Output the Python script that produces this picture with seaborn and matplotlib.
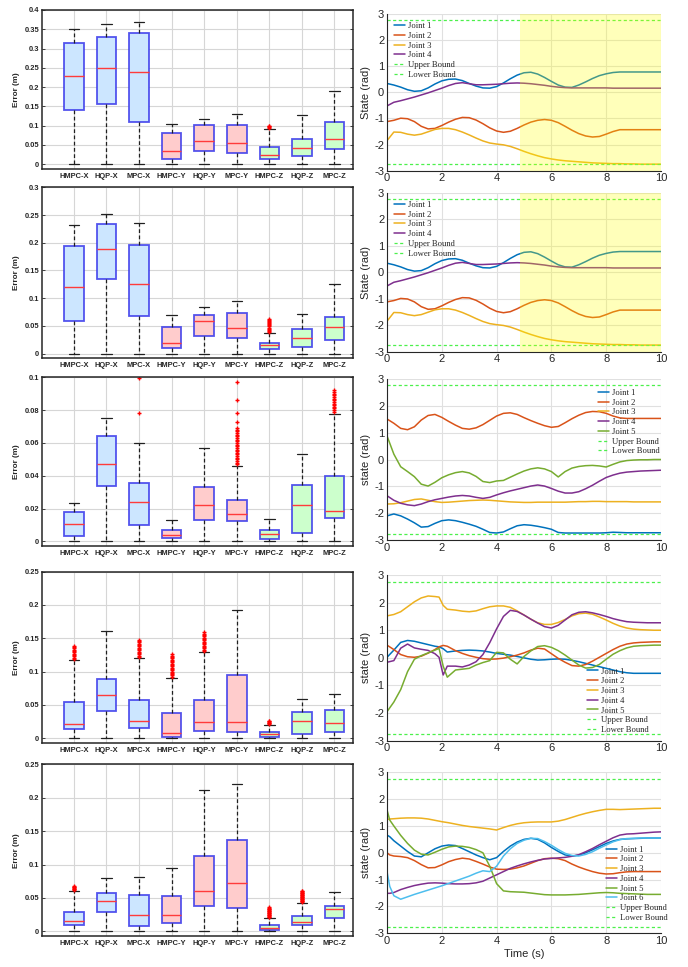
import numpy as np
import matplotlib
matplotlib.use("Agg")
import matplotlib.pyplot as plt
import seaborn as sns

# ---------------- box-plot data (Error in m) ----------------
CATS = ["HMPC-X", "HQP-X", "MPC-X", "HMPC-Y", "HQP-Y", "MPC-Y", "HMPC-Z", "HQP-Z", "MPC-Z"]

R1_LO = [0, 0, 0, 0, 0, 0, 0, 0, 0]
R1_Q1 = [0.141, 0.155, 0.11, 0.014, 0.0336, 0.029, 0.014, 0.022, 0.04]
R1_MED = [0.23, 0.25, 0.24, 0.0345, 0.061, 0.056, 0.023, 0.043, 0.066]
R1_Q3 = [0.315, 0.331, 0.34, 0.08, 0.1026, 0.1026, 0.0457, 0.066, 0.11]
R1_HI = [0.35, 0.364, 0.369, 0.105, 0.118, 0.13, 0.092, 0.128, 0.191]
R1_OUT = {6: [0.094, 0.096, 0.098, 0.1]}

R2_LO = [0, 0, 0, 0, 0, 0, 0, 0, 0]
R2_Q1 = [0.0584, 0.1355, 0.0675, 0.0108, 0.032, 0.029, 0.009, 0.0127, 0.0247]
R2_MED = [0.121, 0.188, 0.125, 0.0199, 0.059, 0.047, 0.0157, 0.029, 0.0488]
R2_Q3 = [0.195, 0.233, 0.196, 0.0488, 0.0705, 0.074, 0.0199, 0.044, 0.0657]
R2_HI = [0.2325, 0.2524, 0.236, 0.0705, 0.0843, 0.095, 0.0367, 0.071, 0.1265]
R2_OUT = {6: [0.039, 0.041, 0.043, 0.045, 0.047, 0.049, 0.051, 0.053, 0.055, 0.057,
              0.059, 0.061, 0.062]}

R3_LO = [0, 0, 0, 0, 0, 0, 0, 0, 0]
R3_Q1 = [0.0033, 0.0337, 0.01, 0.002, 0.0133, 0.0122, 0.0015, 0.0054, 0.0143]
R3_MED = [0.0104, 0.047, 0.0241, 0.0041, 0.0224, 0.0165, 0.0048, 0.0224, 0.0185]
R3_Q3 = [0.018, 0.064, 0.0357, 0.0067, 0.0333, 0.0254, 0.007, 0.0341, 0.04]
R3_HI = [0.0237, 0.0754, 0.0598, 0.0128, 0.0567, 0.046, 0.0135, 0.0533, 0.0776]
R3_OUT = {2: [0.0785, 0.0995],
          5: [0.047, 0.048, 0.049, 0.05, 0.051, 0.052, 0.053, 0.054, 0.055, 0.056,
              0.057, 0.058, 0.059, 0.06, 0.061, 0.062, 0.063, 0.064, 0.065, 0.066,
              0.067, 0.068, 0.069, 0.073, 0.078, 0.086, 0.097],
          8: [0.079, 0.08, 0.081, 0.082, 0.083, 0.084, 0.085, 0.086, 0.087, 0.088,
              0.089, 0.09, 0.091, 0.092]}

R4_LO = [0, 0, 0, 0, 0, 0, 0, 0, 0]
R4_Q1 = [0.0136, 0.04, 0.015, 0.002, 0.0106, 0.0096, 0.002, 0.0066, 0.0096]
R4_MED = [0.0217, 0.064, 0.0263, 0.007, 0.0247, 0.0242, 0.006, 0.0263, 0.0232]
R4_Q3 = [0.0545, 0.0889, 0.057, 0.0374, 0.0576, 0.095, 0.0091, 0.0394, 0.0414]
R4_HI = [0.117, 0.161, 0.12, 0.09, 0.129, 0.192, 0.0197, 0.059, 0.0667]
R4_OUT = {0: [0.119, 0.121, 0.123, 0.125, 0.127, 0.129, 0.131, 0.133, 0.135, 0.137, 0.139],
          2: [0.122, 0.124, 0.126, 0.128, 0.13, 0.132, 0.134, 0.136, 0.138, 0.14, 0.142,
              0.144, 0.146, 0.148],
          3: [0.092, 0.094, 0.096, 0.098, 0.1, 0.102, 0.104, 0.106, 0.108, 0.11, 0.112,
              0.114, 0.116, 0.118, 0.12, 0.122, 0.124, 0.126],
          4: [0.131, 0.133, 0.135, 0.137, 0.139, 0.141, 0.143, 0.145, 0.147, 0.149,
              0.151, 0.153, 0.155, 0.157, 0.16],
          6: [0.021, 0.022, 0.023, 0.024, 0.025, 0.026]}

R5_LO = [0, 0, 0, 0, 0, 0, 0, 0, 0]
R5_Q1 = [0.0091, 0.0283, 0.0081, 0.0126, 0.0374, 0.0348, 0.0025, 0.0096, 0.0197]
R5_MED = [0.0152, 0.046, 0.0242, 0.0242, 0.0606, 0.0727, 0.0045, 0.0136, 0.0328]
R5_Q3 = [0.0293, 0.057, 0.054, 0.0525, 0.112, 0.1374, 0.0091, 0.0227, 0.0374]
R5_HI = [0.0606, 0.0803, 0.081, 0.0944, 0.211, 0.2207, 0.0192, 0.0424, 0.0586]
R5_OUT = {0: [0.062, 0.063, 0.064, 0.065, 0.066, 0.067, 0.068],
          6: [0.021, 0.022, 0.023, 0.024, 0.025, 0.026, 0.027, 0.028, 0.029, 0.03,
              0.031, 0.032, 0.033, 0.034, 0.035, 0.036],
          7: [0.044, 0.045, 0.046, 0.047, 0.048, 0.049, 0.05, 0.051, 0.052, 0.053,
              0.054, 0.055, 0.056, 0.057, 0.058, 0.059, 0.06, 0.061]}

# ---------------- joint state data (rad) ----------------
TA = [0, 0.25, 0.5, 0.75, 1, 1.25, 1.5, 1.75, 2, 2.25, 2.5, 2.75, 3, 3.25, 3.5, 3.75, 4,
      4.25, 4.5, 4.75, 5, 5.25, 5.5, 5.75, 6, 6.25, 6.5, 6.75, 7, 7.25, 7.5, 7.75, 8,
      8.25, 8.5, 8.75, 9, 9.25, 9.5, 9.75, 10]
A_J1 = [0.34, 0.28, 0.2, 0.1, 0.04, 0.06, 0.17, 0.32, 0.44, 0.5, 0.51, 0.45, 0.34, 0.24,
        0.17, 0.16, 0.22, 0.36, 0.52, 0.66, 0.75, 0.77, 0.7, 0.57, 0.42, 0.28, 0.2, 0.19,
        0.28, 0.4, 0.53, 0.64, 0.71, 0.76, 0.78, 0.78, 0.78, 0.78, 0.78, 0.78, 0.78]
A_J2 = [-1.12, -1.07, -0.99, -1.01, -1.12, -1.3, -1.4, -1.38, -1.27, -1.14, -1.03, -0.96,
        -0.97, -1.06, -1.2, -1.36, -1.48, -1.53, -1.49, -1.38, -1.25, -1.14, -1.07, -1.04,
        -1.07, -1.16, -1.3, -1.45, -1.58, -1.67, -1.71, -1.69, -1.6, -1.5, -1.43, -1.43,
        -1.43, -1.43, -1.43, -1.43, -1.43]
A_J3 = [-1.85, -1.52, -1.53, -1.6, -1.64, -1.6, -1.51, -1.42, -1.38, -1.38, -1.43, -1.52,
        -1.63, -1.75, -1.86, -1.94, -1.98, -2.01, -2.07, -2.16, -2.26, -2.35, -2.43, -2.5,
        -2.55, -2.59, -2.62, -2.64, -2.66, -2.68, -2.7, -2.71, -2.72, -2.73, -2.73, -2.74,
        -2.74, -2.75, -2.75, -2.75, -2.75]
A_J4 = [-0.52, -0.38, -0.32, -0.25, -0.18, -0.1, -0.02, 0.07, 0.16, 0.26, 0.34, 0.37, 0.33,
        0.29, 0.29, 0.3, 0.31, 0.33, 0.35, 0.36, 0.35, 0.33, 0.3, 0.27, 0.23, 0.2, 0.18,
        0.17, 0.17, 0.17, 0.17, 0.17, 0.17, 0.16, 0.16, 0.16, 0.16, 0.16, 0.16, 0.16, 0.16]

TB = TA
B_J1 = [-2.1, -2.03, -2.1, -2.22, -2.36, -2.52, -2.5, -2.38, -2.28, -2.25, -2.28, -2.34,
        -2.41, -2.49, -2.6, -2.72, -2.74, -2.7, -2.58, -2.47, -2.43, -2.45, -2.49, -2.54,
        -2.6, -2.72, -2.74, -2.74, -2.74, -2.74, -2.74, -2.74, -2.73, -2.71, -2.72, -2.73,
        -2.73, -2.73, -2.73, -2.73, -2.73]
B_J2 = [1.51, 1.35, 1.16, 1.11, 1.22, 1.47, 1.64, 1.68, 1.57, 1.42, 1.28, 1.16, 1.13, 1.18,
        1.3, 1.46, 1.62, 1.72, 1.74, 1.68, 1.56, 1.45, 1.35, 1.26, 1.2, 1.23, 1.37, 1.52,
        1.65, 1.75, 1.79, 1.78, 1.72, 1.62, 1.55, 1.53, 1.53, 1.53, 1.53, 1.53, 1.53]
B_J3 = [-1.66, -1.65, -1.61, -1.55, -1.49, -1.47, -1.52, -1.57, -1.6, -1.59, -1.57, -1.55,
        -1.53, -1.52, -1.51, -1.52, -1.54, -1.56, -1.58, -1.59, -1.6, -1.6, -1.59, -1.59,
        -1.59, -1.59, -1.59, -1.58, -1.57, -1.57, -1.56, -1.56, -1.57, -1.57, -1.57, -1.57,
        -1.58, -1.58, -1.58, -1.58, -1.58]
B_J4 = [-1.35, -1.52, -1.63, -1.69, -1.72, -1.66, -1.57, -1.5, -1.45, -1.4, -1.36, -1.34,
        -1.36, -1.41, -1.45, -1.41, -1.32, -1.24, -1.17, -1.11, -1.05, -0.99, -0.95, -0.99,
        -1.08, -1.18, -1.25, -1.25, -1.2, -1.09, -0.96, -0.81, -0.67, -0.58, -0.51, -0.47,
        -0.45, -0.43, -0.42, -0.41, -0.4]
B_J5 = [0.88, 0.2, -0.27, -0.45, -0.64, -0.92, -0.99, -0.85, -0.68, -0.57, -0.49, -0.45,
        -0.5, -0.63, -0.82, -0.86, -0.8, -0.78, -0.66, -0.54, -0.43, -0.35, -0.31, -0.35,
        -0.45, -0.65, -0.45, -0.32, -0.26, -0.23, -0.22, -0.24, -0.28, -0.18, -0.09, -0.04,
        -0.02, -0.01, -0.01, 0.0, 0.0]

TC = [0, 0.25, 0.5, 0.75, 1, 1.25, 1.5, 1.75, 1.9, 2.05, 2.2, 2.5, 2.75, 3, 3.25, 3.5,
      3.75, 4, 4.25, 4.5, 4.75, 5, 5.25, 5.5, 5.75, 6, 6.25, 6.5, 6.75, 7, 7.25, 7.5, 7.75,
      8, 8.25, 8.5, 8.75, 9, 9.25, 9.5, 9.75, 10]
C_J1 = [0.02, 0.28, 0.56, 0.63, 0.6, 0.54, 0.48, 0.42, 0.4, 0.33, 0.21, 0.25, 0.27, 0.28,
        0.27, 0.25, 0.21, 0.16, 0.13, 0.1, 0.05, 0.0, -0.05, -0.08, -0.07, -0.05, -0.04,
        -0.05, -0.09, -0.14, -0.2, -0.26, -0.32, -0.38, -0.44, -0.5, -0.54, -0.56, -0.56,
        -0.56, -0.56, -0.56]
C_J2 = [0.46, 0.3, 0.12, 0.04, 0.02, 0.06, 0.17, 0.3, 0.4, 0.45, 0.42, 0.26, 0.16, 0.08,
        0.02, -0.03, -0.05, -0.04, -0.01, 0.04, 0.1, 0.18, 0.28, 0.35, 0.32, 0.15, -0.02,
        -0.16, -0.28, -0.3, -0.24, -0.12, 0.02, 0.16, 0.3, 0.42, 0.5, 0.54, 0.56, 0.57,
        0.58, 0.58]
C_J3 = [1.52, 1.57, 1.67, 1.85, 2.03, 2.17, 2.24, 2.22, 2.2, 1.9, 1.76, 1.73, 1.69, 1.67,
        1.7, 1.78, 1.85, 1.88, 1.88, 1.83, 1.7, 1.55, 1.4, 1.27, 1.21, 1.21, 1.28, 1.39,
        1.52, 1.6, 1.62, 1.58, 1.48, 1.37, 1.25, 1.15, 1.08, 1.04, 1.02, 1.01, 1.0, 1.0]
C_J4 = [-0.16, -0.1, 0.35, 0.5, 0.36, 0.31, 0.27, 0.15, 0.02, -0.62, -0.3, -0.3, -0.33,
        -0.26, -0.14, 0.12, 0.55, 1.05, 1.5, 1.72, 1.68, 1.55, 1.4, 1.26, 1.13, 1.08, 1.18,
        1.37, 1.56, 1.65, 1.67, 1.63, 1.57, 1.5, 1.42, 1.36, 1.31, 1.29, 1.28, 1.27, 1.27,
        1.27]
C_J5 = [-1.95, -1.6, -1.15, -0.5, -0.05, 0.08, 0.18, 0.28, 0.34, -0.3, -0.7, -0.44, -0.41,
        -0.38, -0.26, -0.17, -0.1, 0.2, 0.18, -0.05, -0.22, 0.05, 0.25, 0.41, 0.44, 0.38,
        0.26, 0.1, -0.08, -0.26, -0.37, -0.35, -0.24, -0.05, 0.13, 0.26, 0.36, 0.42, 0.44,
        0.45, 0.46, 0.46]

TD = [0, 0.1, 0.25, 0.5, 0.75, 1, 1.25, 1.5, 1.75, 2, 2.25, 2.5, 2.75, 3, 3.25, 3.5, 3.75,
      4, 4.25, 4.5, 4.75, 5, 5.25, 5.5, 5.75, 6, 6.25, 6.5, 6.75, 7, 7.25, 7.5, 7.75, 8,
      8.25, 8.5, 8.75, 9, 9.25, 9.5, 9.75, 10]
D_J1 = [0.66, 0.6, 0.45, 0.25, 0.05, -0.12, -0.15, 0.0, 0.15, 0.25, 0.29, 0.27, 0.16, 0.04,
        -0.08, -0.18, -0.26, -0.18, 0.05, 0.25, 0.4, 0.5, 0.54, 0.5, 0.37, 0.2, 0.05, -0.08,
        -0.12, -0.09, 0.0, 0.11, 0.23, 0.35, 0.44, 0.5, 0.52, 0.53, 0.54, 0.55, 0.55, 0.55]
D_J2 = [0.0, -0.08, -0.12, -0.14, -0.18, -0.29, -0.44, -0.56, -0.55, -0.45, -0.33, -0.25,
        -0.2, -0.23, -0.32, -0.42, -0.53, -0.61, -0.62, -0.61, -0.56, -0.49, -0.39, -0.29,
        -0.22, -0.2, -0.22, -0.29, -0.42, -0.53, -0.62, -0.7, -0.76, -0.79, -0.78, -0.74,
        -0.71, -0.7, -0.7, -0.7, -0.7, -0.7]
D_J3 = [1.24, 1.26, 1.27, 1.29, 1.3, 1.3, 1.29, 1.26, 1.21, 1.16, 1.12, 1.07, 1.02, 0.98,
        0.95, 0.92, 0.89, 0.85, 0.94, 1.02, 1.08, 1.12, 1.14, 1.15, 1.15, 1.15, 1.18, 1.24,
        1.32, 1.4, 1.47, 1.53, 1.58, 1.62, 1.62, 1.61, 1.62, 1.63, 1.64, 1.65, 1.66, 1.66]
D_J4 = [-1.51, -1.51, -1.48, -1.37, -1.29, -1.22, -1.17, -1.13, -1.12, -1.13, -1.15, -1.16,
        -1.16, -1.15, -1.12, -1.06, -0.94, -0.82, -0.7, -0.58, -0.49, -0.41, -0.34, -0.28,
        -0.23, -0.21, -0.19, -0.17, -0.13, -0.07, 0.04, 0.16, 0.3, 0.43, 0.56, 0.66, 0.7,
        0.71, 0.73, 0.75, 0.77, 0.78]
D_J5 = [1.6, 1.22, 1.0, 0.65, 0.35, 0.1, -0.05, -0.08, 0.02, 0.13, 0.22, 0.25, 0.24, 0.2,
        0.12, 0.0, -0.5, -1.15, -1.42, -1.45, -1.46, -1.47, -1.5, -1.53, -1.56, -1.57, -1.57,
        -1.57, -1.56, -1.55, -1.53, -1.51, -1.49, -1.48, -1.49, -1.51, -1.52, -1.53, -1.54,
        -1.55, -1.55, -1.55]
D_J6 = [-0.7, -1.25, -1.6, -1.73, -1.64, -1.55, -1.47, -1.39, -1.31, -1.23, -1.14, -1.05,
        -0.96, -0.87, -0.76, -0.67, -0.7, -0.5, -0.12, 0.15, 0.35, 0.47, 0.54, 0.53, 0.42,
        0.28, 0.12, -0.02, -0.1, -0.12, -0.06, 0.04, 0.17, 0.29, 0.41, 0.49, 0.53, 0.54,
        0.55, 0.55, 0.55, 0.55]

UPPER = 2.76
LOWER = -2.76
SHADE = [4.84, 10]

# ---------------- styling ----------------
sns.set_theme(style="whitegrid")
plt.rcParams['font.family'] = ['Liberation Sans', 'DejaVu Sans']
plt.rcParams['axes.unicode_minus'] = False

JCOL = ['#0072BD', '#D95319', '#EDB120', '#7E2F8E', '#77AC30', '#4DBEEE']
BND = '#4cf04c'
FACE = [(0.80, 0.90, 1.0)] * 3 + [(1.0, 0.80, 0.80)] * 3 + [(0.80, 1.0, 0.80)] * 3
EDGE = (0.22, 0.22, 0.92, 0.85)
DARK = '#262626'

fig = plt.figure(figsize=(6.88, 9.67), dpi=100)
H = 967.0
W = 688.0


def pos_px(x0, x1, ytop, ybot):
    return [x0 / W, 1 - ybot / H, (x1 - x0) / W, (ybot - ytop) / H]


LEFT_ROWS = [(10, 168.5), (187.3, 358.3), (377.3, 546), (571.7, 742.7), (764.3, 936)]
RIGHT_ROWS = [(14, 170.7), (192.7, 351.7), (379, 540), (575, 740.7), (772.3, 933.3)]


def draw_box(ax, lo, q1, med, q3, hi, outs, ytop, ystep):
    stats = []
    for i in range(len(CATS)):
        stats.append(dict(med=med[i], q1=q1[i], q3=q3[i], whislo=lo[i], whishi=hi[i],
                          fliers=np.array(outs.get(i, []), dtype=float)))
    art = ax.bxp(stats, positions=np.arange(1, 10), widths=0.6, patch_artist=True,
                 showfliers=True, capwidths=0.32,
                 medianprops=dict(color='#ff3b3b', lw=1.0),
                 whiskerprops=dict(color='#202020', lw=0.9, ls=(0, (3, 2))),
                 capprops=dict(color='#202020', lw=0.9),
                 flierprops=dict(marker='+', markeredgecolor='red', markersize=3,
                                 markeredgewidth=1.0, linestyle='none'),
                 boxprops=dict(lw=1.3))
    for p, fc in zip(art['boxes'], FACE):
        p.set_facecolor(fc)
        p.set_edgecolor(EDGE)
    ax.set_xlim(0.02, 9.57)
    ax.set_ylim(-ytop * 0.028, ytop)
    ax.set_yticks(np.arange(0, ytop + 1e-9, ystep))
    ax.yaxis.set_major_formatter(matplotlib.ticker.FormatStrFormatter('%g'))
    ax.set_xticks(np.arange(1, 10))
    ax.set_xticklabels(CATS)
    ax.tick_params(axis='both', labelsize=5.4, direction='in', length=2.5, width=0.6,
                   colors=DARK, pad=2)
    ax.tick_params(axis='x', pad=3)
    ax.tick_params(axis='y', right=True, left=True)
    for lab in ax.get_xticklabels() + ax.get_yticklabels():
        lab.set_fontweight('bold')
    ax.set_ylabel('Error (m)', fontsize=5.9, fontweight='bold', labelpad=3, color=DARK)
    ax.grid(True, color='#d6d6d6', lw=0.8)
    ax.set_axisbelow(True)
    for s in ax.spines.values():
        s.set_color(DARK)
        s.set_linewidth(1.1)


def draw_joints(ax, t, series, ylab, leg_loc, leg_anchor, shade=False, xlabel=None):
    for i, v in enumerate(series):
        sns.lineplot(x=t, y=v, ax=ax, color=JCOL[i], lw=1.1, label=f"Joint {i + 1}",
                     sort=False, estimator=None)
    ax.axhline(UPPER, color=BND, ls=(0, (2.5, 2)), lw=0.9, label='Upper Bound')
    ax.axhline(LOWER, color=BND, ls=(0, (2.5, 2)), lw=0.9, label='Lower Bound')
    if shade:
        ax.axvspan(SHADE[0], SHADE[1], color='#ffff00', alpha=0.27, lw=0, zorder=4)
    ax.set_xlim(0, 10)
    ax.set_ylim(-3, 3)
    ax.set_xticks([0, 2, 4, 6, 8, 10])
    ax.set_yticks([-3, -2, -1, 0, 1, 2, 3])
    ax.tick_params(axis='both', labelsize=8, direction='in', length=3, width=0.6,
                   colors=DARK, pad=2)
    ax.set_ylabel(ylab, fontsize=8, labelpad=2, color=DARK)
    if xlabel:
        ax.set_xlabel(xlabel, fontsize=8, labelpad=2, color=DARK)
    else:
        ax.set_xlabel('')
    ax.grid(True, color='#e0e0e0', lw=0.8)
    ax.set_axisbelow(True)
    for k in ['top', 'right']:
        ax.spines[k].set_visible(False)
    for k in ['left', 'bottom']:
        ax.spines[k].set_color(DARK)
        ax.spines[k].set_linewidth(0.8)
    leg = ax.legend(loc=leg_loc, bbox_to_anchor=leg_anchor, frameon=False,
                    prop=dict(family=['Liberation Serif', 'DejaVu Serif'], size=6.2),
                    labelspacing=0.2, handlelength=1.3, handletextpad=0.3,
                    borderpad=0.1, borderaxespad=0.1)
    leg.set_zorder(6)


BOX_ROWS = [
    (R1_LO, R1_Q1, R1_MED, R1_Q3, R1_HI, R1_OUT, 0.4, 0.05),
    (R2_LO, R2_Q1, R2_MED, R2_Q3, R2_HI, R2_OUT, 0.3, 0.05),
    (R3_LO, R3_Q1, R3_MED, R3_Q3, R3_HI, R3_OUT, 0.1, 0.02),
    (R4_LO, R4_Q1, R4_MED, R4_Q3, R4_HI, R4_OUT, 0.25, 0.05),
    (R5_LO, R5_Q1, R5_MED, R5_Q3, R5_HI, R5_OUT, 0.25, 0.05),
]
for (yt, yb), row in zip(LEFT_ROWS, BOX_ROWS):
    ax = fig.add_axes(pos_px(42, 353, yt, yb))
    draw_box(ax, *row)

JOINT_ROWS = [
    (TA, [A_J1, A_J2, A_J3, A_J4], 'State (rad)', 'upper left', (0.02, 0.96), True, None),
    (TA, [A_J1, A_J2, A_J3, A_J4], 'State (rad)', 'upper left', (0.02, 0.96), True, None),
    (TB, [B_J1, B_J2, B_J3, B_J4, B_J5], 'state (rad)', 'upper right', (1.0, 0.95), False, None),
    (TC, [C_J1, C_J2, C_J3, C_J4, C_J5], 'state (rad)', 'lower right', (0.96, 0.03), False, None),
    (TD, [D_J1, D_J2, D_J3, D_J4, D_J5, D_J6], 'state (rad)', 'lower right', (1.03, 0.06), False,
     'Time (s)'),
]
for (yt, yb), row in zip(RIGHT_ROWS, JOINT_ROWS):
    ax = fig.add_axes(pos_px(387, 661, yt, yb))
    draw_joints(ax, *row)

fig.savefig('out.png', dpi=100)
